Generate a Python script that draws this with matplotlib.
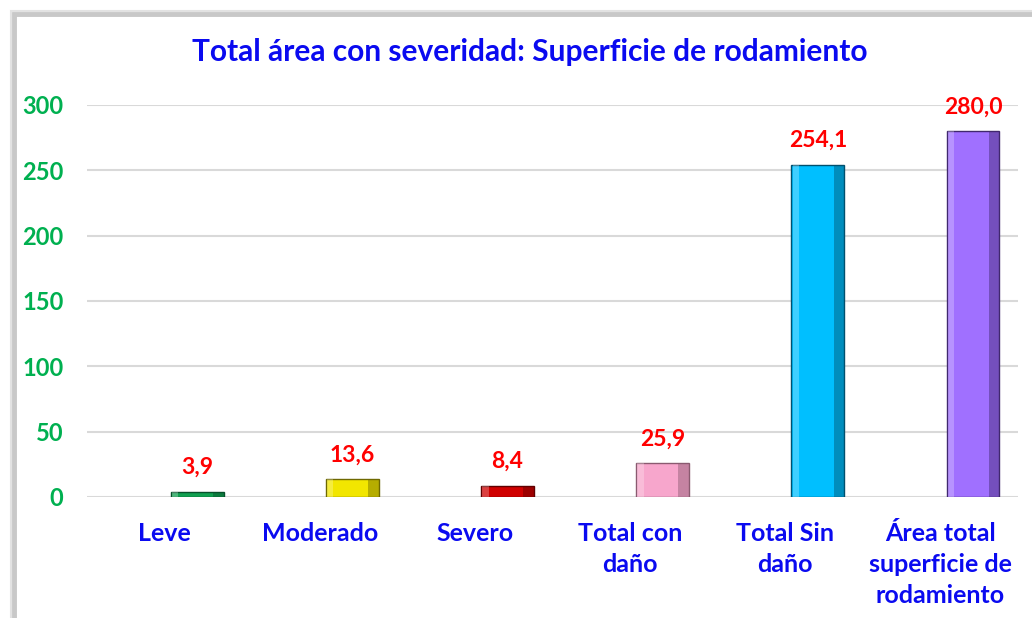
import matplotlib.pyplot as plt
import matplotlib.patches as patches
import numpy as np

# ── Data ─────────────────────────────────────────────
categories = ['Leve', 'Moderado', 'Severo', 'Total con\ndaño',
              'Total Sin\ndaño', 'Área total\nsuperficie de\nrodamiento']
values = [3.9, 13.6, 8.4, 25.9, 254.1, 280.0]
value_labels = ['3,9', '13,6', '8,4', '25,9', '254,1', '280,0']
yticks = [0, 50, 100, 150, 200, 250, 300]

bar_colors = ['#10A050', '#F2E600', '#D00000', '#F7A6CC', '#00BFFF', '#A070FF']
edge_colors = ['#06502a', '#6e6800', '#600000', '#8a5a70', '#00506e', '#40286e']

BLUE = '#0A0AF0'
GREEN = '#00B050'
RED = '#FF0000'
FONT = 'Lato'

fig = plt.figure(figsize=(10.32, 6.18), dpi=100)
fig.patch.set_facecolor('white')

# chart frame with soft shadow on left/top
fig.add_artist(patches.Rectangle((14 / 1032, -0.05), 1.2, (618 - 14) / 618 + 0.05,
                                 transform=fig.transFigure, fill=False,
                                 edgecolor='#c8c8c8', linewidth=3.5))
fig.add_artist(patches.Rectangle((11 / 1032, -0.05), 1.2, (618 - 11) / 618 + 0.05,
                                 transform=fig.transFigure, fill=False,
                                 edgecolor='#e2e2e2', linewidth=1.5))

ax = fig.add_axes([87 / 1032, 1 - 497 / 618, 931 / 1032, 392 / 618])
ax.set_facecolor('none')

x = np.arange(len(categories))
offset = 0.21
width = 0.34

ax.bar(x + offset, values, width=width, color=bar_colors,
       edgecolor=edge_colors, linewidth=1.0, zorder=3)
# darker right side for a bevelled look
ax.bar(x + offset + width * 0.4, values, width=width * 0.2,
       color=edge_colors, alpha=0.45, linewidth=0, zorder=4)
# lighter highlight on the left side
ax.bar(x + offset - width * 0.42, values, width=width * 0.12,
       color='white', alpha=0.25, linewidth=0, zorder=4)

for xi, v, lab in zip(x, values, value_labels):
    ax.annotate(lab, (xi + offset, v), xytext=(0, 10),
                textcoords='offset points', ha='center', va='bottom',
                color=RED, fontsize=16.5, fontweight='bold', family=FONT)

ax.set_ylim(0, 300)
ax.set_xlim(-0.5, len(categories) - 0.5)
ax.set_yticks(yticks)
ax.set_yticklabels([str(t) for t in yticks], color=GREEN,
                   fontsize=17, fontweight='bold', family=FONT)
ax.set_xticks(x)
ax.set_xticklabels(categories, color=BLUE, fontsize=18,
                   fontweight='bold', family=FONT, linespacing=1.42, va='top')
ax.tick_params(axis='y', length=0, pad=17)
ax.tick_params(axis='x', length=0, pad=18)
ax.grid(axis='y', color='#d9d9d9', linewidth=1.5, zorder=0)
ax.set_axisbelow(True)
for s in ax.spines.values():
    s.set_visible(False)

fig.text(530 / 1032, 1 - 52 / 618,
         'Total área con severidad: Superficie de rodamiento',
         ha='center', va='center', color=BLUE, fontsize=21.5,
         fontweight='bold', family=FONT)

fig.savefig('out.png', dpi=100, facecolor='white')
